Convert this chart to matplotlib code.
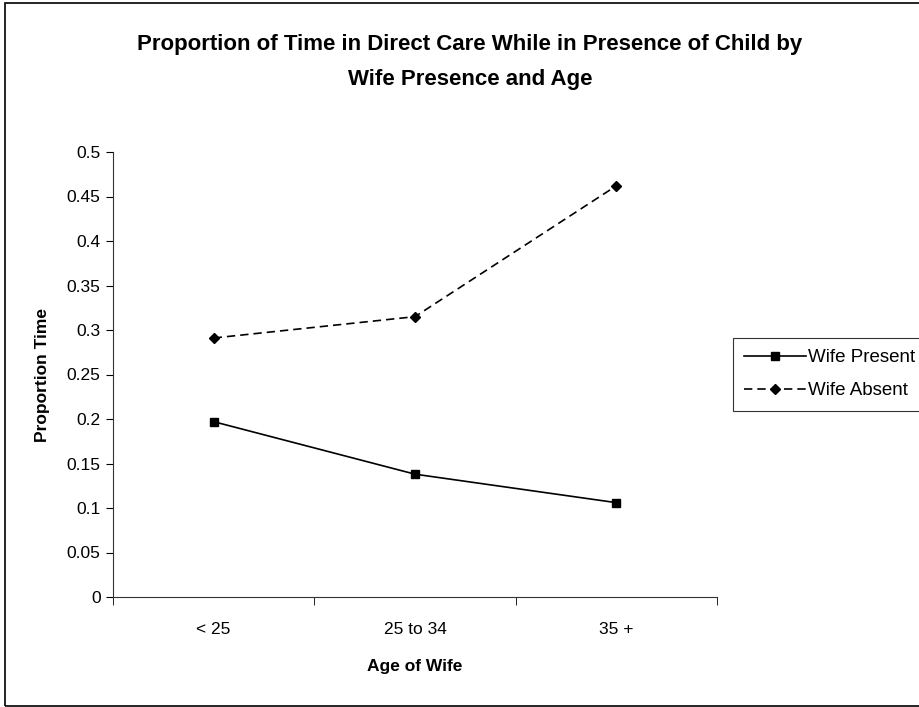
import matplotlib.pyplot as plt
from matplotlib.patches import Rectangle

categories = ['< 25', '25 to 34', '35 +']
wife_present = [0.197, 0.138, 0.106]
wife_absent = [0.291, 0.315, 0.462]
y_ticks = [0, 0.05, 0.1, 0.15, 0.2, 0.25, 0.3, 0.35, 0.4, 0.45, 0.5]
y_tick_labels = ['0', '0.05', '0.1', '0.15', '0.2', '0.25', '0.3', '0.35', '0.4', '0.45', '0.5']

plt.rcParams['font.family'] = ['Liberation Sans', 'DejaVu Sans']

fig = plt.figure(figsize=(9.19, 7.07), dpi=100)
ax = fig.add_axes([113 / 919, 1 - 597 / 707, 604 / 919, (597 - 152) / 707])

x = list(range(len(categories)))
ax.plot(x, wife_present, color='black', lw=1.2, marker='s', ms=6, label='Wife Present')
ax.plot(x, wife_absent, color='black', lw=1.2, ls=(0, (5, 3)), marker='D', ms=5.5, label='Wife Absent')

ax.set_xlim(-0.5, len(categories) - 0.5)
ax.set_ylim(0, 0.5)
ax.set_yticks(y_ticks)
ax.set_yticklabels(y_tick_labels, fontsize=12.5)
ax.set_xticks(x)
ax.set_xticklabels(categories, fontsize=12.5)
ax.tick_params(axis='x', length=0, pad=18)
ax.set_xticks([i - 0.5 for i in range(len(categories) + 1)], minor=True)
ax.tick_params(axis='x', which='minor', length=6, direction='out')
ax.tick_params(axis='y', length=5, direction='out', pad=4)

for s in ['top', 'right']:
    ax.spines[s].set_visible(False)
ax.spines['left'].set_color('#333333')
ax.spines['bottom'].set_color('#333333')

ax.set_xlabel('Age of Wife', fontsize=12.5, fontweight='bold', labelpad=16)
ax.set_ylabel('Proportion Time', fontsize=12.5, fontweight='bold', labelpad=12)

fig.text(470 / 919, 1 - 62 / 707,
         'Proportion of Time in Direct Care While in Presence of Child by\nWife Presence and Age',
         ha='center', va='center', fontsize=16, fontweight='bold', linespacing=1.85)

# legend sticks out past the right edge, like the original
leg = fig.legend(loc='upper left', bbox_to_anchor=(733 / 919, 1 - 338 / 707),
                 fontsize=13.5, frameon=True, fancybox=False, edgecolor='black',
                 handlelength=3.3, handletextpad=0.1, borderpad=0.6, labelspacing=0.85,
                 borderaxespad=0)
leg.get_frame().set_linewidth(0.8)

fig.patches.append(Rectangle((5 / 919, 1 / 707), 930 / 919, 703 / 707, transform=fig.transFigure,
                             fill=False, edgecolor='black', lw=1.2))

plt.savefig('out.png', dpi=100)
